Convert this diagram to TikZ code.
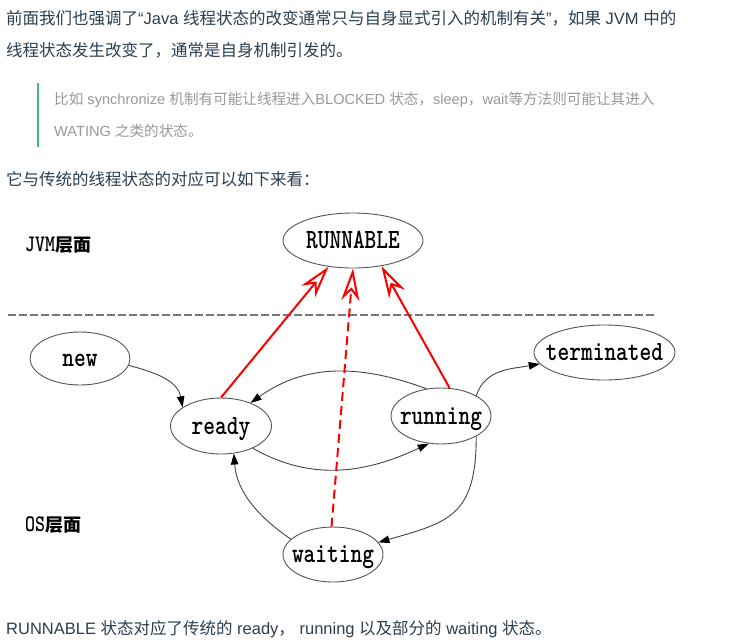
\documentclass[tikz,border=0pt]{standalone}
\usepackage{fontspec}
\usepackage{graphicx}
\setmainfont{Liberation Sans}
\newfontfamily\cjk{Noto Sans CJK SC}
\usetikzlibrary{shapes.geometric,arrows.meta}
\definecolor{txt}{HTML}{2C3E50}
\definecolor{quotetxt}{HTML}{999999}
\definecolor{barc}{HTML}{42B983}
\definecolor{edgec}{HTML}{555555}
\definecolor{connc}{HTML}{444444}
\definecolor{sepc}{HTML}{777777}
\newcommand\tallbox[1]{\scalebox{1}[1.25]{#1}}
\begin{document}
\begin{tikzpicture}[x=1pt,y=-1pt,
  body/.style={font=\fontsize{16.5}{16.5}\selectfont, text=txt, inner sep=0pt, anchor=base west},
  quotet/.style={font=\fontsize{14.6}{14.6}\selectfont, text=quotetxt, inner sep=0pt, anchor=base west},
  state/.style={ellipse, draw=edgec, line width=0.9pt, inner sep=0pt, fill=white},
  lbl/.style={font=\ttfamily\bfseries\fontsize{22.3}{24}\selectfont, inner sep=0pt, anchor=base},
  layer/.style={inner sep=0pt, anchor=base west},
  conn/.style={draw=connc, line width=0.9pt, -{Triangle[length=11pt,width=7.5pt,color=black]}},
  redarrow/.style={draw=red, line width=2pt, -{Stealth[open, length=32pt, width=18pt, inset=10pt]}},
  reddash/.style={redarrow, dash pattern=on 9pt off 5pt},
  sepline/.style={draw=sepc, line width=1.5pt, dash pattern=on 7.5pt off 3.5pt}
]
\fill[white] (0,0) rectangle (730,640);
\useasboundingbox (0,0) rectangle (730,640);

% ---- text above ----
\node[body] (t1) at (6,24.6) {{\cjk 前面我们也强调了}“Java {\cjk 线程状态的改变通常只与自身显式引入的机制有关}”{\cjk ，如果} JVM {\cjk 中的}};
\node[body] (t2) at (6,56.5) {{\cjk 线程状态发生改变了，通常是自身机制引发的。}};
\fill[barc] (36.5,83) rectangle (38.5,147);
\node[quotet] (q1) at (54,104.8) {{\cjk 比如} synchronize {\cjk 机制有可能让线程进入}BLOCKED {\cjk 状态，}sleep{\cjk ，}wait{\cjk 等方法则可能让其进入}};
\node[quotet] (q2) at (54,136.5) {WATING {\cjk 之类的状态。}};
\node[body] (t3) at (6,185.8) {{\cjk 它与传统的线程状态的对应可以如下来看：}};
\node[body] (t4) at (6,634.5) {RUNNABLE {\cjk 状态对应了传统的} ready{\cjk ，} running {\cjk 以及部分的} waiting {\cjk 状态。}};

% ---- layer labels ----
\node[layer] (jvm) at (25,251.5) {\tallbox{\ttfamily\bfseries\fontsize{19}{20}\selectfont JVM}{\cjk\bfseries\fontsize{18}{18}\selectfont 层面}};
\node[layer] (os) at (25,531) {\tallbox{\ttfamily\bfseries\fontsize{19}{20}\selectfont OS}{\cjk\bfseries\fontsize{18}{18}\selectfont 层面}};

% ---- separator ----
\coordinate (sepL) at (8,315);
\coordinate (sepR) at (657,315);
\draw[sepline] (sepL) -- (sepR);

% ---- states ----
\node[state, minimum width=140pt, minimum height=55pt] (RUN) at (353,240.5) {};
\node[state, minimum width=100pt, minimum height=53pt] (new) at (80,358.5) {};
\node[state, minimum width=101pt, minimum height=56pt] (ready) at (221,426) {};
\node[state, minimum width=100pt, minimum height=56pt] (running) at (441,416) {};
\node[state, minimum width=141pt, minimum height=55pt] (term) at (604.5,352.5) {};
\node[state, minimum width=100pt, minimum height=55pt] (waiting) at (333,554.5) {};

\node[lbl] (RUNt) at ([yshift=-8pt]RUN.center) {\tallbox{RUNNABLE}};
\node[lbl] (newt) at ([yshift=-8pt]new.center) {\tallbox{new}};
\node[lbl] (readyt) at ([yshift=-8pt]ready.center) {\tallbox{ready}};
\node[lbl] (runningt) at ([yshift=-8pt]running.center) {\tallbox{running}};
\node[lbl] (termt) at ([yshift=-8pt]term.center) {\tallbox{terminated}};
\node[lbl] (waitingt) at ([yshift=-8pt]waiting.center) {\tallbox{waiting}};

% ---- black connectors ----
\draw[conn] (new.-8) .. controls +(26,7) and +(-5,-27) .. (ready.154);
\draw[conn] (running.118) .. controls +(-65,-24) and +(56,-40) .. (ready.38);
\draw[conn] (ready.-35) .. controls +(60,34) and +(-62,29) .. (running.-114);
\draw[conn] (running.30) .. controls +(9,-27) and +(-28,5) .. (term.190);
\draw[conn] (running.-30) .. controls +(0,80) and +(70,-20) .. (waiting.15);
\draw[conn] (waiting.160) .. controls +(-32,-22) and +(3,39) .. (ready.-65);

% ---- red arrows ----
\draw[redarrow] (ready.north) -- (RUN.-133);
\draw[reddash] (waiting.93) -- (RUN.south);
\draw[redarrow] (running.73) -- (RUN.-42);
\end{tikzpicture}
\end{document}
